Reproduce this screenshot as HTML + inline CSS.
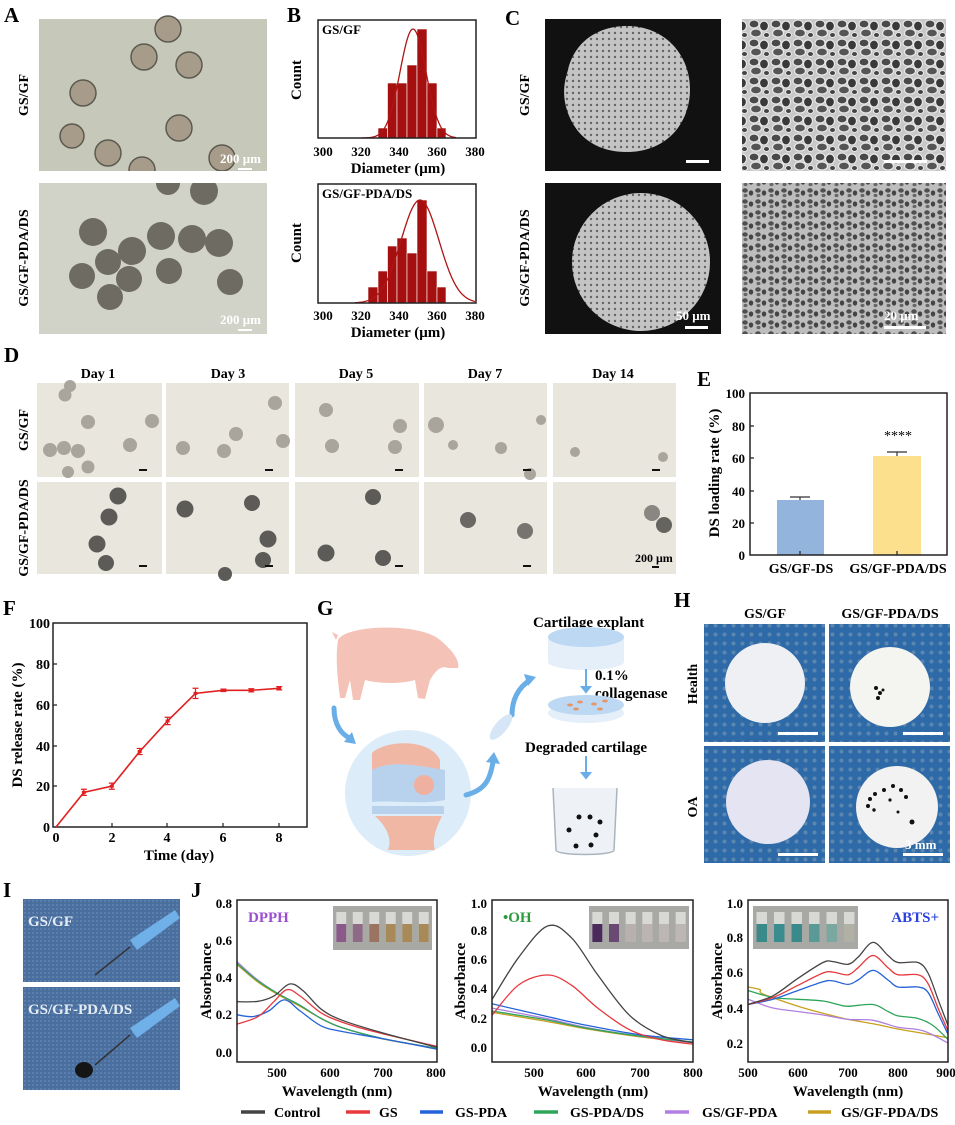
<!DOCTYPE html>
<html><head><meta charset="utf-8"><style>
html,body{margin:0;padding:0;background:#fff;}
svg{display:block;font-family:"Liberation Serif",serif;font-weight:bold;}
</style></head><body>
<svg id="s" width="955" height="1125" viewBox="0 0 955 1125" xmlns="http://www.w3.org/2000/svg">
<defs>
<pattern id="honey" width="22" height="19" patternUnits="userSpaceOnUse">
<rect width="22" height="19" fill="#c8c8c8"/>
<ellipse cx="6" cy="5" rx="5" ry="4" fill="#4a4a4a" stroke="#e8e8e8" stroke-width="1.2"/>
<ellipse cx="16" cy="7" rx="4.5" ry="5" fill="#3a3a3a" stroke="#e8e8e8" stroke-width="1.2"/>
<ellipse cx="8" cy="14" rx="5.5" ry="4" fill="#555" stroke="#e8e8e8" stroke-width="1.2"/>
<ellipse cx="18.5" cy="16" rx="3" ry="2.5" fill="#444" stroke="#e8e8e8" stroke-width="1"/>
</pattern>
<pattern id="honey2" width="13" height="11" patternUnits="userSpaceOnUse">
<rect width="13" height="11" fill="#bdbdbd"/>
<ellipse cx="4" cy="3.5" rx="2.8" ry="2.2" fill="#505050"/>
<ellipse cx="10" cy="6" rx="2.2" ry="2.6" fill="#444"/>
<ellipse cx="4.5" cy="8.5" rx="2" ry="1.6" fill="#666"/>
</pattern>
<pattern id="porous" width="6" height="6" patternUnits="userSpaceOnUse">
<rect width="6" height="6" fill="#b8b8b8"/>
<circle cx="3" cy="3" r="1.2" fill="#444"/>
</pattern>
<pattern id="mesh" width="9" height="9" patternUnits="userSpaceOnUse">
<rect width="9" height="9" fill="#2f6aa8"/>
<circle cx="4.5" cy="4.5" r="2" fill="#5a86b0"/>
</pattern>
<pattern id="denim" width="4" height="4" patternUnits="userSpaceOnUse">
<rect width="4" height="4" fill="#4a6f9e"/>
<rect width="2" height="2" fill="#5b80ae"/>
</pattern>
</defs>

<g font-size="21">
<text x="4" y="22">A</text><text x="287" y="22">B</text><text x="505" y="25">C</text>
<text x="4" y="362">D</text><text x="697" y="386">E</text><text x="3" y="615">F</text>
<text x="317" y="615">G</text><text x="674" y="607">H</text><text x="3" y="897">I</text><text x="191" y="897">J</text>
</g>

<!-- A -->
<rect x="39" y="19" width="228" height="152" fill="#c6c9ba"/>
<g fill="#a79c8a" stroke="#5c5a50" stroke-width="1.5">
<circle cx="168" cy="29" r="13"/><circle cx="144" cy="57" r="13"/><circle cx="189" cy="65" r="13"/>
<circle cx="83" cy="93" r="13"/><circle cx="72" cy="136" r="12"/><circle cx="179" cy="128" r="13"/>
<circle cx="108" cy="153" r="13"/><circle cx="142" cy="170" r="13"/><circle cx="222" cy="158" r="13"/>
</g>
<rect x="39" y="183" width="228" height="151" fill="#d1d2c8"/>
<g fill="#6e6c62">
<circle cx="93" cy="232" r="14"/><circle cx="132" cy="251" r="14"/><circle cx="108" cy="262" r="13"/>
<circle cx="82" cy="276" r="13"/><circle cx="129" cy="279" r="13"/><circle cx="110" cy="297" r="13"/>
<circle cx="161" cy="236" r="14"/><circle cx="192" cy="239" r="14"/><circle cx="219" cy="243" r="14"/>
<circle cx="169" cy="271" r="13"/><circle cx="230" cy="282" r="13"/><circle cx="204" cy="191" r="14"/>
<circle cx="168" cy="183" r="12"/>
</g>
<rect x="39" y="171" width="228" height="12" fill="#fff"/>
<g fill="#fff" font-size="13"><text x="220" y="163">200 μm</text><rect x="238" y="168" width="14" height="2"/>
<text x="220" y="324">200 μm</text><rect x="238" y="329" width="14" height="2"/></g>
<g font-size="14"><text transform="translate(28,95) rotate(-90)" text-anchor="middle">GS/GF</text>
<text transform="translate(28,258) rotate(-90)" text-anchor="middle">GS/GF-PDA/DS</text></g>

<!-- B -->
<g fill="#a50f0f" stroke="#fff" stroke-width="0.6">
<rect x="378" y="128" width="9.5" height="10"/><rect x="387.5" y="83" width="9.5" height="55"/><rect x="397" y="83" width="10" height="55"/>
<rect x="407" y="65" width="10" height="73"/><rect x="417" y="29" width="10" height="109"/><rect x="427" y="83" width="10" height="55"/><rect x="437" y="128" width="9" height="10"/>
<rect x="368" y="287" width="10" height="16"/><rect x="378" y="271" width="9.5" height="32"/><rect x="387.5" y="246" width="9.5" height="57"/><rect x="397" y="238" width="10" height="65"/>
<rect x="407" y="253" width="10" height="50"/><rect x="417" y="200" width="10" height="103"/><rect x="427" y="271" width="10" height="32"/><rect x="437" y="287" width="9" height="16"/>
</g>
<path id="g1" fill="none" stroke="#b01515" stroke-width="1.3"/>
<path id="g2" fill="none" stroke="#b01515" stroke-width="1.3"/>
<rect x="318" y="20" width="158" height="118" fill="none" stroke="#222" stroke-width="1.5"/>
<rect x="318" y="184" width="158" height="119" fill="none" stroke="#222" stroke-width="1.5"/>
<g font-size="13" text-anchor="middle">
<text x="323" y="156">300</text><text x="361" y="156">320</text><text x="399" y="156">340</text><text x="437" y="156">360</text><text x="475" y="156">380</text>
<text x="323" y="320">300</text><text x="361" y="320">320</text><text x="399" y="320">340</text><text x="437" y="320">360</text><text x="475" y="320">380</text>
<text x="398" y="173" font-size="15">Diameter (μm)</text><text x="398" y="337" font-size="15">Diameter (μm)</text>
<text transform="translate(301,80) rotate(-90)" font-size="15">Count</text>
<text transform="translate(301,243) rotate(-90)" font-size="15">Count</text>
</g>
<g font-size="13"><text x="322" y="34">GS/GF</text><text x="322" y="198">GS/GF-PDA/DS</text></g>

<!-- C -->
<rect x="545" y="19" width="176" height="152" fill="#111"/>
<path d="M568 70 C575 40 600 26 627 26 C665 26 690 55 690 89 C690 125 665 152 627 152 C600 152 580 140 570 118 C562 100 563 85 568 70Z" fill="url(#porous)"/>
<path d="M568 70 C575 40 600 26 627 26 C665 26 690 55 690 89 C690 125 665 152 627 152 C600 152 580 140 570 118 C562 100 563 85 568 70Z" fill="#fff" opacity="0.18"/>
<rect x="686" y="160" width="23" height="3" fill="#fff"/>
<rect x="545" y="183" width="176" height="151" fill="#111"/>
<clipPath id="cc"><rect x="545" y="183" width="176" height="151"/></clipPath>
<circle cx="641" cy="262" r="69" fill="url(#porous)" clip-path="url(#cc)"/>
<circle cx="641" cy="262" r="69" fill="#fff" opacity="0.18" clip-path="url(#cc)"/>
<text x="676" y="320" fill="#fff" font-size="13">50 μm</text><rect x="685" y="326" width="23" height="3" fill="#fff"/>
<rect x="742" y="19" width="204" height="152" fill="url(#honey)"/>
<rect x="884" y="160" width="43" height="3" fill="#fff"/>
<rect x="742" y="183" width="204" height="151" fill="url(#honey2)"/>
<text x="884" y="320" fill="#fff" font-size="13">20 μm</text><rect x="884" y="326" width="42" height="3" fill="#fff"/>
<g font-size="14"><text transform="translate(529,95) rotate(-90)" text-anchor="middle">GS/GF</text>
<text transform="translate(529,258) rotate(-90)" text-anchor="middle">GS/GF-PDA/DS</text></g>

<!-- D -->
<g font-size="14" text-anchor="middle"><text x="98" y="378">Day 1</text><text x="228" y="378">Day 3</text><text x="356" y="378">Day 5</text><text x="485" y="378">Day 7</text><text x="613" y="378">Day 14</text>
<text transform="translate(28,430) rotate(-90)">GS/GF</text><text transform="translate(28,528) rotate(-90)">GS/GF-PDA/DS</text></g>
<g fill="#e9e6de">
<rect x="37" y="383" width="125" height="94"/><rect x="166" y="383" width="123" height="94"/><rect x="295" y="383" width="124" height="94"/><rect x="424" y="383" width="123" height="94"/><rect x="553" y="383" width="123" height="94"/>
<rect x="37" y="482" width="125" height="92"/><rect x="166" y="482" width="123" height="92"/><rect x="295" y="482" width="124" height="92"/><rect x="424" y="482" width="123" height="92"/><rect x="553" y="482" width="123" height="92"/>
</g>
<g fill="#a9a59c">
<circle cx="65" cy="395" r="6.5"/><circle cx="70" cy="386" r="6"/><circle cx="88" cy="422" r="7"/><circle cx="152" cy="421" r="7"/><circle cx="50" cy="450" r="7"/><circle cx="64" cy="448" r="7"/><circle cx="78" cy="451" r="7"/><circle cx="130" cy="445" r="7"/><circle cx="68" cy="472" r="6"/><circle cx="88" cy="467" r="6.5"/>
<circle cx="275" cy="403" r="7"/><circle cx="236" cy="434" r="7"/><circle cx="183" cy="448" r="7"/><circle cx="224" cy="451" r="7"/><circle cx="283" cy="441" r="7"/>
<circle cx="326" cy="410" r="7"/><circle cx="400" cy="426" r="7"/><circle cx="332" cy="446" r="7"/><circle cx="395" cy="447" r="7"/>
<circle cx="436" cy="425" r="8"/><circle cx="453" cy="445" r="5"/><circle cx="501" cy="448" r="6"/><circle cx="541" cy="420" r="5"/><circle cx="530" cy="474" r="6"/>
<circle cx="575" cy="452" r="5"/><circle cx="663" cy="457" r="5"/>
</g>
<g fill="#5c5b58">
<circle cx="118" cy="496" r="8.5"/><circle cx="109" cy="517" r="8.5"/><circle cx="97" cy="544" r="8.5"/><circle cx="106" cy="563" r="8"/>
<circle cx="185" cy="509" r="8.5"/><circle cx="252" cy="503" r="8"/><circle cx="268" cy="539" r="8.5"/><circle cx="263" cy="560" r="8"/><circle cx="225" cy="574" r="7"/>
<circle cx="373" cy="497" r="8"/><circle cx="326" cy="553" r="8.5"/><circle cx="383" cy="558" r="8"/>
<circle cx="468" cy="520" r="8" fill="#6a6864"/><circle cx="525" cy="531" r="8" fill="#777470"/>
<circle cx="652" cy="513" r="8" fill="#8a8782"/><circle cx="664" cy="525" r="8" fill="#66645f"/>
</g>
<g fill="#111"><rect x="139" y="469" width="8" height="2"/><rect x="265" y="469" width="8" height="2"/><rect x="395" y="469" width="8" height="2"/><rect x="523" y="469" width="8" height="2"/><rect x="652" y="469" width="8" height="2"/>
<rect x="139" y="565" width="8" height="2"/><rect x="265" y="565" width="8" height="2"/><rect x="395" y="565" width="8" height="2"/><rect x="523" y="565" width="8" height="2"/></g>
<text x="635" y="562" font-size="12">200 μm</text><rect x="652" y="566" width="7" height="2" fill="#111"/>

<!-- E -->
<rect x="777" y="500" width="47" height="55" fill="#93b5dd"/>
<rect x="873" y="456" width="48" height="99" fill="#fde08e"/>
<g stroke="#333" stroke-width="1.2"><path d="M800 500V497M790 497H810M897 456V452M887 452H907"/></g>
<rect x="750" y="393" width="197" height="162" fill="none" stroke="#222" stroke-width="1.5"/>
<g stroke="#222" stroke-width="1.2"><path d="M750 426h4M750 458h4M750 491h4M750 523h4M800 555v-4M897 555v-4"/></g>
<g font-size="13" text-anchor="end"><text x="745" y="398">100</text><text x="745" y="431">80</text><text x="745" y="463">60</text><text x="745" y="496">40</text><text x="745" y="528">20</text><text x="745" y="560">0</text></g>
<text x="898" y="440" font-size="14" text-anchor="middle" font-weight="normal">****</text>
<g font-size="14" text-anchor="middle"><text x="801" y="573">GS/GF-DS</text><text x="898" y="573">GS/GF-PDA/DS</text>
<text transform="translate(719,473) rotate(-90)" font-size="15">DS loading rate (%)</text></g>

<!-- F -->
<rect x="53" y="623" width="254" height="204" fill="none" stroke="#222" stroke-width="1.5"/>
<g stroke="#222" stroke-width="1.2"><path d="M53 664h4M53 705h4M53 746h4M53 786h4M112 827v-4M167 827v-4M223 827v-4M279 827v-4"/></g>
<g font-size="14" text-anchor="end"><text x="50" y="628">100</text><text x="50" y="669">80</text><text x="50" y="710">60</text><text x="50" y="751">40</text><text x="50" y="791">20</text><text x="50" y="832">0</text></g>
<g font-size="14" text-anchor="middle"><text x="56" y="842">0</text><text x="112" y="842">2</text><text x="167" y="842">4</text><text x="223" y="842">6</text><text x="279" y="842">8</text>
<text x="179" y="860" font-size="15">Time (day)</text><text transform="translate(22,725) rotate(-90)" font-size="15">DS release rate (%)</text></g>
<g id="fl"></g>

<!-- G -->
<circle cx="408" cy="793" r="63" fill="#dcecf8"/>
<path d="M372 753 C385 740 430 738 440 760 L440 770 C420 775 395 772 372 772Z" fill="#f0b8a4"/>
<path d="M372 770 C390 760 415 765 445 770 L445 800 C420 805 395 800 372 802Z" fill="#b8d2ee"/>
<circle cx="424" cy="785" r="10" fill="#f0b0a0"/>
<rect x="372" y="806" width="72" height="8" fill="#b8d2ee"/>
<path d="M375 816 H442 C435 830 432 840 435 850 H388 C392 840 388 828 375 816Z" fill="#f0b8a4"/>
<path d="M338 640 C345 625 420 622 440 640 C452 650 460 660 458 668 L448 668 C440 665 435 672 430 680 L425 699 L418 698 L415 680 C400 684 380 684 365 680 L360 700 L353 700 L350 680 L345 698 L340 698 C338 680 335 660 338 640Z" fill="#f4c2b6"/>
<path d="M336 640 l-4 -8 l6 3Z" fill="#f4c2b6"/>
<g fill="none" stroke="#6aaee8" stroke-width="5" stroke-linecap="round">
<path d="M334 708 C334 725 342 735 350 738"/><path d="M466 795 C485 790 490 780 493 762"/><path d="M512 715 C512 700 518 688 530 680"/>
</g>
<g fill="#6aaee8"><path d="M352 732 L356 744 L344 742Z"/><path d="M486 762 L494 752 L500 764Z"/><path d="M524 674 L536 677 L528 686Z"/></g>
<ellipse cx="501" cy="727" rx="6" ry="16" transform="rotate(40 501 727)" fill="#d6e6f6"/>
<g font-size="15"><text x="533" y="627">Cartilage explant</text><text x="525" y="752">Degraded cartilage</text><text x="595" y="680">0.1%</text><text x="595" y="698">collagenase</text></g>
<rect x="548" y="637" width="76" height="25" fill="#e4effa"/><ellipse cx="586" cy="662" rx="38" ry="8" fill="#e4effa"/><ellipse cx="586" cy="637" rx="38" ry="10" fill="#bcd8f2"/>
<ellipse cx="586" cy="713" rx="38" ry="10" fill="#e4effa"/><ellipse cx="586" cy="705" rx="38" ry="10" fill="#bcd8f2"/>
<g fill="#e8956a"><ellipse cx="570" cy="705" rx="3" ry="1.5"/><ellipse cx="580" cy="702" rx="3" ry="1.5"/><ellipse cx="594" cy="704" rx="3" ry="1.5"/><ellipse cx="605" cy="701" rx="3" ry="1.5"/><ellipse cx="600" cy="709" rx="3" ry="1.5"/><ellipse cx="576" cy="709" rx="3" ry="1.5"/></g>
<g stroke="#6aaee8" stroke-width="2" fill="#6aaee8"><path d="M586 669V688" /><path d="M582 687h8l-4 5z"/><path d="M586 756V774"/><path d="M582 773h8l-4 5z"/></g>
<path d="M553 788 L556 850 C556 856 614 856 614 850 L617 788" fill="#eef2f6" stroke="#aab4be" stroke-width="1.5"/>
<g fill="#111"><circle cx="579" cy="817" r="2.5"/><circle cx="590" cy="817" r="2.5"/><circle cx="600" cy="822" r="2.5"/><circle cx="569" cy="830" r="2.5"/><circle cx="596" cy="835" r="2.5"/><circle cx="576" cy="846" r="2.5"/><circle cx="591" cy="845" r="2.5"/></g>

<!-- H -->
<g font-size="14" text-anchor="middle"><text x="765" y="618">GS/GF</text><text x="890" y="618">GS/GF-PDA/DS</text>
<text transform="translate(697,684) rotate(-90)">Health</text><text transform="translate(697,807) rotate(-90)">OA</text></g>
<rect x="704" y="624" width="121" height="118" fill="url(#mesh)"/><rect x="829" y="624" width="121" height="118" fill="url(#mesh)"/>
<rect x="704" y="746" width="121" height="117" fill="url(#mesh)"/><rect x="829" y="746" width="121" height="117" fill="url(#mesh)"/>
<circle cx="765" cy="683" r="40" fill="#eef0f4"/><circle cx="890" cy="687" r="40" fill="#f4f4f0"/>
<circle cx="768" cy="802" r="42" fill="#e4e4f2"/><circle cx="897" cy="807" r="41" fill="#f2f2f2"/>
<g fill="#111"><circle cx="876" cy="688" r="2"/><circle cx="880" cy="693" r="2"/><circle cx="878" cy="698" r="2"/><circle cx="883" cy="690" r="1.5"/>
<circle cx="870" cy="799" r="2"/><circle cx="875" cy="794" r="2"/><circle cx="884" cy="790" r="2"/><circle cx="893" cy="786" r="2"/><circle cx="901" cy="790" r="2"/><circle cx="906" cy="797" r="2"/><circle cx="868" cy="806" r="2"/><circle cx="890" cy="800" r="1.6"/><circle cx="912" cy="822" r="2.5"/><circle cx="898" cy="812" r="1.5"/><circle cx="874" cy="810" r="1.7"/></g>
<g fill="#fff"><rect x="778" y="732" width="40" height="3"/><rect x="903" y="732" width="40" height="3"/><rect x="778" y="853" width="40" height="3"/><rect x="903" y="853" width="40" height="3"/></g>
<text x="905" y="849" fill="#fff" font-size="13">3 mm</text>

<!-- I -->
<rect x="23" y="899" width="157" height="83" fill="url(#denim)"/>
<rect x="23" y="987" width="157" height="103" fill="url(#denim)"/>
<g stroke="#333" stroke-width="1.5"><path d="M130 947 L95 975"/><path d="M130 1035 L95 1065"/></g>
<g fill="#6fb0e8"><path d="M130 940 L175 910 L180 918 L137 950Z"/><path d="M130 1028 L175 998 L180 1006 L137 1038Z"/></g>
<ellipse cx="84" cy="1070" rx="9" ry="8" fill="#151515"/>
<g fill="#e6ecf4" font-size="15"><text x="28" y="926">GS/GF</text><text x="28" y="1014">GS/GF-PDA/DS</text></g>

<!-- J -->
<g fill="#a8a8a4"><rect x="333" y="906" width="99" height="44"/><rect x="589" y="906" width="100" height="43"/><rect x="753" y="906" width="105" height="43"/></g>
<g id="vials"></g>
<g id="jl"></g>
<g fill="none" stroke="#222" stroke-width="1.5"><rect x="237" y="900" width="200" height="162"/><rect x="492" y="900" width="201" height="162"/><rect x="748" y="900" width="200" height="162"/></g>
<g font-size="13" text-anchor="end">
<text x="232" y="908">0.8</text><text x="232" y="945">0.6</text><text x="232" y="982">0.4</text><text x="232" y="1019">0.2</text><text x="232" y="1057">0.0</text>
<text x="487" y="908">1.0</text><text x="487" y="935">0.8</text><text x="487" y="964">0.6</text><text x="487" y="993">0.4</text><text x="487" y="1023">0.2</text><text x="487" y="1052">0.0</text>
<text x="743" y="908">1.0</text><text x="743" y="942">0.8</text><text x="743" y="977">0.6</text><text x="743" y="1013">0.4</text><text x="743" y="1048">0.2</text>
</g>
<g font-size="13" text-anchor="middle">
<text x="277" y="1077">500</text><text x="330" y="1077">600</text><text x="383" y="1077">700</text><text x="436" y="1077">800</text>
<text x="534" y="1077">500</text><text x="586" y="1077">600</text><text x="640" y="1077">700</text><text x="693" y="1077">800</text>
<text x="748" y="1077">500</text><text x="798" y="1077">600</text><text x="848" y="1077">700</text><text x="898" y="1077">800</text><text x="946" y="1077">900</text>
<g font-size="15"><text x="337" y="1096">Wavelength (nm)</text><text x="593" y="1096">Wavelength (nm)</text><text x="848" y="1096">Wavelength (nm)</text>
<text transform="translate(211,981) rotate(-90)">Absorbance</text><text transform="translate(465,981) rotate(-90)">Absorbance</text><text transform="translate(722,981) rotate(-90)">Absorbance</text></g>
</g>
<text x="248" y="922" font-size="15" fill="#9b4fd0">DPPH</text>
<text x="503" y="922" font-size="15" fill="#2e9a3e">•OH</text>
<text x="939" y="922" font-size="15" fill="#2a3fdc" text-anchor="end">ABTS+</text>
<g stroke-width="3.5">
<path d="M241 1112h24" stroke="#444"/><path d="M346 1112h24" stroke="#e8383d"/><path d="M420 1112h23" stroke="#2563d8"/><path d="M534 1112h24" stroke="#2ea55a"/><path d="M665 1112h24" stroke="#b07fe0"/><path d="M808 1112h23" stroke="#c8a020"/>
</g>
<g font-size="14"><text x="274" y="1117">Control</text><text x="379" y="1117">GS</text><text x="455" y="1117">GS-PDA</text><text x="570" y="1117">GS-PDA/DS</text><text x="702" y="1117">GS/GF-PDA</text><text x="841" y="1117">GS/GF-PDA/DS</text></g>
</svg>
<script>
(function(){
var NS="http://www.w3.org/2000/svg";
function P(parent,d,col,w,fill){var p=document.createElementNS(NS,"path");p.setAttribute("d",d);p.setAttribute("stroke",col);p.setAttribute("stroke-width",w||1.3);p.setAttribute("fill",fill||"none");document.getElementById(parent).appendChild(p);return p;}
function smooth(pts){var d="M"+pts[0][0].toFixed(1)+" "+pts[0][1].toFixed(1);for(var i=0;i<pts.length-1;i++){var p0=pts[i-1]||pts[i],p1=pts[i],p2=pts[i+1],p3=pts[i+2]||p2;var c1x=p1[0]+(p2[0]-p0[0])/6,c1y=p1[1]+(p2[1]-p0[1])/6,c2x=p2[0]-(p3[0]-p1[0])/6,c2y=p2[1]-(p3[1]-p1[1])/6;d+="C"+c1x.toFixed(1)+" "+c1y.toFixed(1)+" "+c2x.toFixed(1)+" "+c2y.toFixed(1)+" "+p2[0].toFixed(1)+" "+p2[1].toFixed(1);}return d;}
function gauss(id,mu,sig,top,base,x0,x1){var d="";for(var x=x0;x<=x1;x+=1){var y=base-(base-top)*Math.exp(-Math.pow(x-mu,2)/(2*sig*sig));d+=(d?"L":"M")+x+" "+y.toFixed(1);}document.getElementById(id).setAttribute("d",d);}
gauss("g1",413,13,29,138,362,456);gauss("g2",420,19,200,303,355,475);
var fd=[[0,0],[1,17],[2,20],[3,37],[4,52],[5,65.5],[6,67],[7,67],[8,68]],fe=[0,1.5,1.5,1.5,1.8,2.5,0.6,0.8,0.8];
var d="";fd.forEach(function(p,i){var x=56+p[0]*27.9,y=827-p[1]*2.04;d+=(i?"L":"M")+x+" "+y;if(i){var e=fe[i]*2.04;P("fl","M"+x+" "+(y-e)+"V"+(y+e)+"M"+(x-3)+" "+(y-e)+"h6M"+(x-3)+" "+(y+e)+"h6","#e02020",1.2);P("fl","M"+(x-2)+" "+y+"h4","#e02020",3);}});
P("fl",d,"#e02020",1.6);
var cols=["#444","#e8383d","#2563d8","#2ea55a","#b07fe0","#c8a020"];
function m1(p){return [237+(p[0]-420)*200/380,1052-p[1]*186.25];}
function m2(p){return [492+(p[0]-420)*201/380,1047-p[1]*144];}
function m3(p){return [748+(p[0]-500)*0.5,1078-p[1]*175];}
var j1=[
[[420,.27],[460,.272],[490,.30],[520,.365],[545,.33],[580,.23],[620,.17],[700,.10],[800,.025]],
[[420,.15],[460,.19],[490,.27],[515,.335],[540,.30],[580,.21],[620,.16],[680,.11],[800,.03]],
[[420,.20],[450,.19],[480,.22],[510,.28],[540,.22],[580,.14],[620,.11],[700,.07],[800,.015]],
[[420,.475],[460,.38],[500,.31],[540,.25],[580,.18],[620,.13],[700,.07],[800,.02]],
[[420,.485],[460,.385],[500,.31],[540,.25],[580,.18],[620,.13],[700,.07],[800,.02]],
[[420,.47],[460,.375],[500,.305],[540,.245],[580,.18],[620,.13],[700,.068],[800,.02]]];
var j2=[
[[420,.33],[470,.62],[525,.84],[570,.76],[620,.5],[680,.22],[740,.08],[800,.03]],
[[420,.22],[470,.43],[525,.5],[570,.43],[620,.27],[680,.12],[740,.05],[800,.02]],
[[420,.30],[520,.215],[600,.15],[700,.085],[800,.05]],
[[420,.25],[520,.19],[600,.13],[700,.075],[800,.035]],
[[420,.27],[520,.20],[600,.135],[700,.075],[800,.03]],
[[420,.24],[520,.18],[600,.125],[700,.07],[800,.03]]];
var j3=[
[[500,.42],[550,.47],[600,.57],[650,.66],[670,.665],[700,.65],[720,.69],[750,.775],[780,.70],[800,.66],[840,.66],[860,.60],[880,.45],[900,.30]],
[[500,.42],[550,.46],[600,.53],[650,.60],[670,.605],[700,.59],[720,.63],[750,.70],[780,.63],[800,.59],[840,.59],[860,.54],[880,.40],[900,.27]],
[[500,.42],[550,.45],[600,.50],[650,.55],[670,.555],[700,.535],[720,.56],[750,.615],[780,.56],[800,.52],[840,.52],[860,.49],[880,.37],[900,.25]],
[[500,.50],[550,.46],[600,.45],[650,.44],[680,.42],[700,.41],[750,.42],[780,.38],[800,.355],[840,.34],[870,.30],[900,.22]],
[[500,.45],[550,.40],[600,.38],[650,.36],[700,.335],[750,.33],[800,.29],[850,.27],[900,.20]],
[[500,.52],[524,.505],[530,.48],[600,.41],[650,.37],[700,.335],[750,.31],[800,.28],[850,.255],[900,.23]]];
[[j1,m1],[j2,m2],[j3,m3]].forEach(function(c){for(var i=5;i>=0;i--){P("jl",smooth(c[0][i].map(c[1])),cols[i],1.3);}});
function vials(x0,y0,w,colsV){var g=document.getElementById("vials");var sp=w/6;colsV.forEach(function(c,i){var r=document.createElementNS(NS,"rect");r.setAttribute("x",x0+i*sp+sp*0.2);r.setAttribute("y",y0+6);r.setAttribute("width",sp*0.6);r.setAttribute("height",30);r.setAttribute("fill","#d8d8d4");g.appendChild(r);var q=document.createElementNS(NS,"rect");q.setAttribute("x",x0+i*sp+sp*0.2);q.setAttribute("y",y0+18);q.setAttribute("width",sp*0.6);q.setAttribute("height",18);q.setAttribute("fill",c);g.appendChild(q);});}
vials(333,906,99,["#8a5a8a","#8f6a86","#9a7460","#a88a5a","#a88a58","#a88a58"]);
vials(589,906,100,["#4a2a5a","#6a4a72","#b8b0b0","#bcb4b4","#bcb6b6","#bcb6b6"]);
vials(753,906,105,["#3a8a8a","#3a8c8e","#3a8a8c","#5a9a96","#7aa8a0","#b0b0a4"]);
})();
</script>
</body></html>
